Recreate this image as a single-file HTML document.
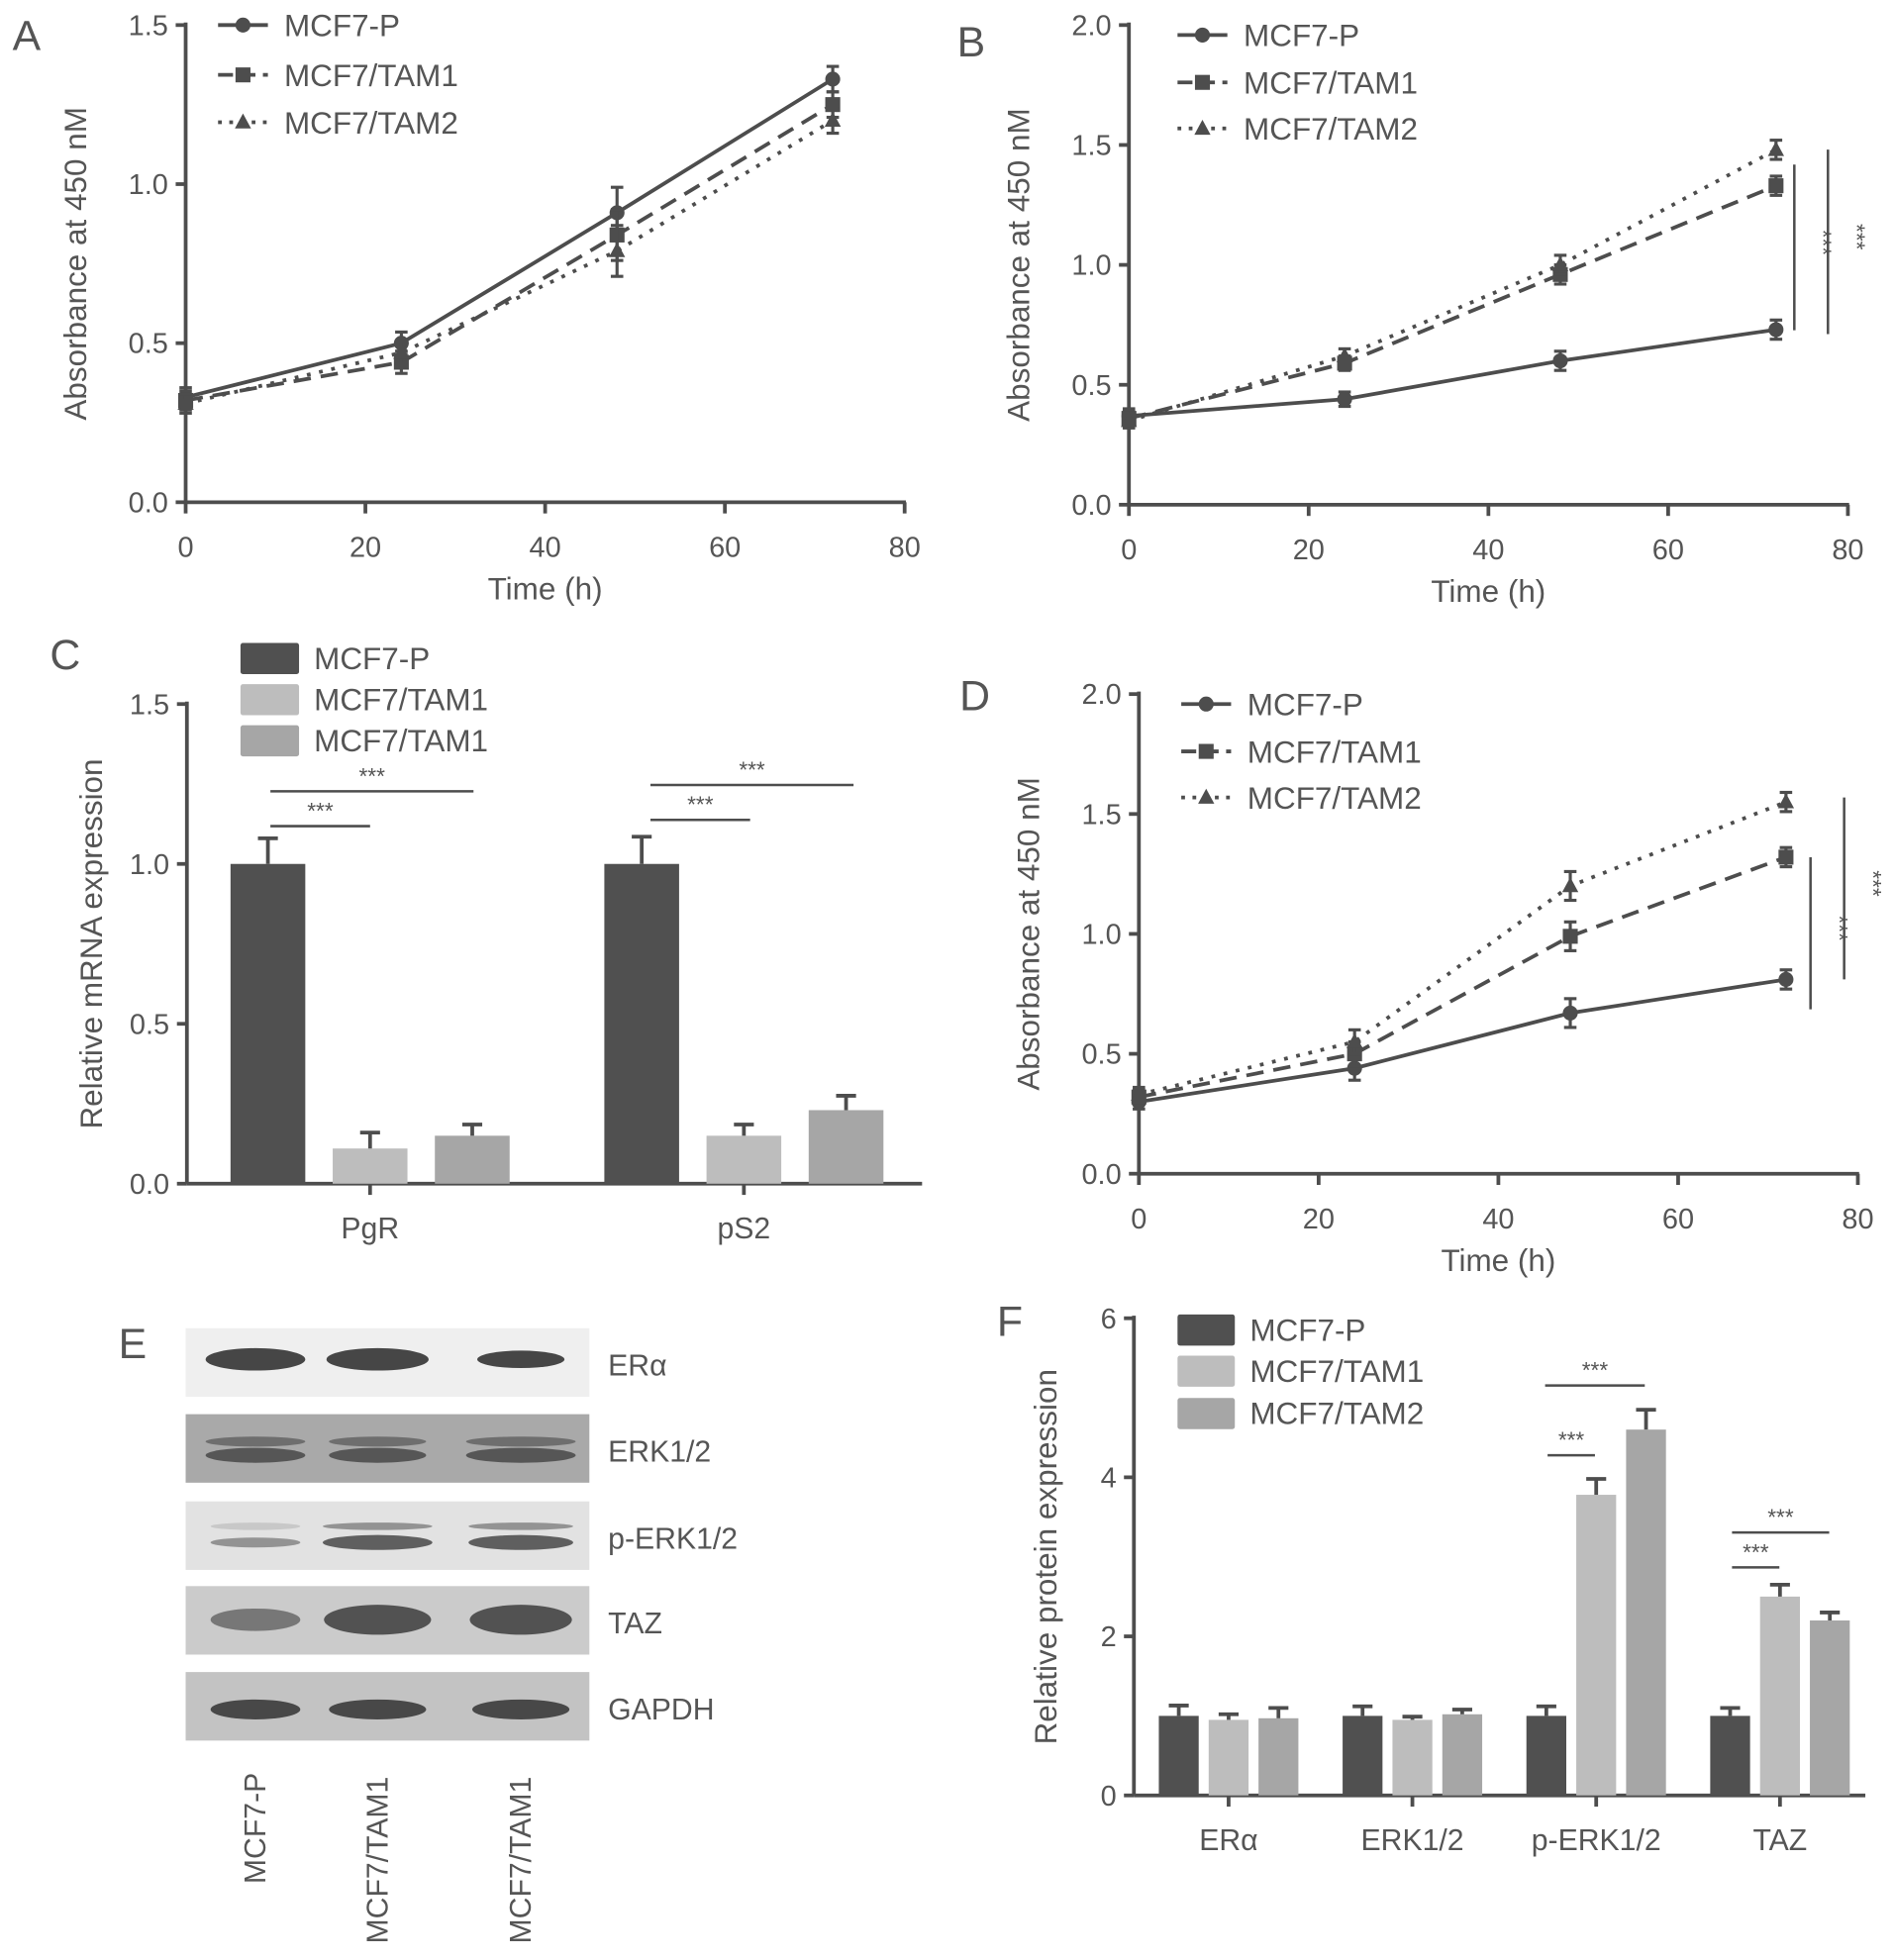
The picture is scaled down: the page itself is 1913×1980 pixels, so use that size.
<!DOCTYPE html>
<html><head><meta charset="utf-8">
<style>
html,body{margin:0;padding:0;background:#fff;}
svg{display:block;}
text{font-family:"Liberation Sans",Arial,sans-serif;fill:#555;}
</style></head>
<body>
<svg id="fig" width="1913" height="1980" viewBox="0 0 1520 1573" xmlns="http://www.w3.org/2000/svg">
<defs>
<linearGradient id="g1" x1="0" x2="0" y1="0" y2="1"><stop offset="0" stop-color="#f4f4f4"/><stop offset="1" stop-color="#ececec"/></linearGradient>
</defs>
<g id="blots"></g>
</svg>
<script>
// ---------- data ----------
const timePoints = [0, 24, 48, 72];
const seriesNames = ["MCF7-P", "MCF7/TAM1", "MCF7/TAM2"];
const aP = [0.33, 0.50, 0.91, 1.33];
const aT1 = [0.32, 0.44, 0.84, 1.25];
const aT2 = [0.31, 0.47, 0.79, 1.20];
const aErr = [0.03, 0.035, 0.08, 0.04];
const bP = [0.37, 0.44, 0.60, 0.73];
const bT1 = [0.36, 0.59, 0.96, 1.33];
const bT2 = [0.35, 0.62, 1.00, 1.48];
const bErr = [0.03, 0.03, 0.04, 0.04];
const dP = [0.30, 0.44, 0.67, 0.81];
const dT1 = [0.32, 0.50, 0.99, 1.32];
const dT2 = [0.33, 0.55, 1.20, 1.55];
const dErr = [0.03, 0.05, 0.06, 0.04];
const cGroups = ["PgR", "pS2"];
const cP = [1.0, 1.0];
const cT1 = [0.11, 0.15];
const cT2 = [0.15, 0.23];
const cErrP = [0.08, 0.085];
const cErrT1 = [0.05, 0.035];
const cErrT2 = [0.035, 0.045];
const cLegend = ["MCF7-P", "MCF7/TAM1", "MCF7/TAM1"];
const fGroups = ["ERα", "ERK1/2", "p-ERK1/2", "TAZ"];
const fP = [1.0, 1.0, 1.0, 1.0];
const fT1 = [0.95, 0.95, 3.78, 2.5];
const fT2 = [0.97, 1.02, 4.6, 2.2];
const fErrP = [0.13, 0.12, 0.12, 0.1];
const fErrT1 = [0.07, 0.04, 0.2, 0.15];
const fErrT2 = [0.13, 0.06, 0.25, 0.1];
const xTicksTime = [0, 20, 40, 60, 80];
const yTicksA = ["0.0", "0.5", "1.0", "1.5"];
const yTicks2 = ["0.0", "0.5", "1.0", "1.5", "2.0"];
const yTicksF = ["0", "2", "4", "6"];
const blotLabels = ["ERα", "ERK1/2", "p-ERK1/2", "TAZ", "GAPDH"];
const laneLabels = ["MCF7-P", "MCF7/TAM1", "MCF7/TAM1"];

// ---------- helpers ----------
const NS = "http://www.w3.org/2000/svg";
const svg = document.getElementById('fig');
const INK = "#4d4d4d";
function el(tag, attrs, parent, txt) {
  const e = document.createElementNS(NS, tag);
  for (const k in attrs) e.setAttribute(k, attrs[k]);
  if (txt !== undefined) e.textContent = txt;
  (parent || svg).appendChild(e);
  return e;
}
function group(name, parent) {
  const g = el('g', {}, parent);
  
  
  return g;
}
function txt(parent, x, y, s, size, anchor, name, rot) {
  const t = el('text', {x: x, y: y, 'font-size': size, 'text-anchor': anchor || 'start'}, parent, s);
  if (rot) t.setAttribute('transform', 'rotate(' + rot + ' ' + x + ' ' + y + ')');
  
  
  return t;
}
function line(parent, x1, y1, x2, y2, w, dash, name) {
  const l = el('line', {x1: x1, y1: y1, x2: x2, y2: y2, stroke: INK, 'stroke-width': w || 2.5}, parent);
  if (dash) l.setAttribute('stroke-dasharray', dash);
  
  
  return l;
}
function marker(parent, kind, x, y) {
  let m;
  if (kind === 0) m = el('circle', {cx: x, cy: y, r: 6, fill: INK}, parent);
  else if (kind === 1) m = el('rect', {x: x - 6, y: y - 6, width: 12, height: 12, fill: INK}, parent);
  else m = el('polygon', {points: (x) + ',' + (y - 7) + ' ' + (x - 6.5) + ',' + (y + 5) + ' ' + (x + 6.5) + ',' + (y + 5), fill: INK}, parent);
  
  
}
const dashes = [null, "14,8", "3,7"];

function lineChart(cfg) {
  const g = group(cfg.name);
  const sx = v => cfg.x0 + (v - 0) / 80 * (cfg.x1 - cfg.x0);
  const sy = v => cfg.y0 - v / cfg.ymax * (cfg.y0 - cfg.y1);
  // axes
  line(g, cfg.x0, cfg.y1 - 2, cfg.x0, cfg.y0, 3, null, 'y-axis');
  line(g, cfg.x0, cfg.y0, cfg.x1 + 1, cfg.y0, 3, null, 'x-axis');
  cfg.yt.forEach(s => {
    const y = sy(parseFloat(s));
    line(g, cfg.x0 - 8, y, cfg.x0, y, 3, null, 'y-tick');
    txt(g, cfg.x0 - 14, y + 8, s, 23, 'end', 'y-tick-label');
  });
  xTicksTime.forEach(v => {
    const x = sx(v);
    line(g, x, cfg.y0, x, cfg.y0 + 9, 3, null, 'x-tick');
    txt(g, x, cfg.y0 + 44, String(v), 23, 'middle', 'x-tick-label');
  });
  txt(g, (cfg.x0 + cfg.x1) / 2, cfg.y0 + 78, 'Time (h)', 25, 'middle', 'x-axis-title');
  txt(g, cfg.x0 - 80, (cfg.y0 + cfg.y1) / 2, 'Absorbance at 450 nM', 25, 'middle', 'y-axis-title', -90);
  txt(g, cfg.lx, cfg.ly, cfg.letter, 34, 'start', 'panel-label');
  cfg.series.forEach((vals, si) => {
    const sg = group('series-' + seriesNames[si].toLowerCase().replace(/[^a-z0-9]+/g, '-'), g);
    const pts = vals.map((v, i) => sx(timePoints[i]) + ',' + sy(v)).join(' ');
    const pl = el('polyline', {points: pts, fill: 'none', stroke: INK, 'stroke-width': 3}, sg);
    if (dashes[si]) pl.setAttribute('stroke-dasharray', dashes[si]);
    
    
    vals.forEach((v, i) => {
      const x = sx(timePoints[i]);
      const e = cfg.err[i];
      line(sg, x, sy(v - e), x, sy(v + e), 2.5, null, 'error-bar');
      line(sg, x - 5, sy(v + e), x + 5, sy(v + e), 2.5, null, 'error-cap');
      line(sg, x - 5, sy(v - e), x + 5, sy(v - e), 2.5, null, 'error-cap');
      marker(sg, si, x, y = sy(v));
    });
  });
  // legend
  seriesNames.forEach((n, i) => {
    const lg = group('legend-entry', g);
    const y = cfg.legY[i];
    line(lg, cfg.legX, y, cfg.legX + 40, y, 3, dashes[i] ? (i === 1 ? "12,6" : "3,6") : null, 'legend-line');
    marker(lg, i, cfg.legX + 20, y);
    txt(lg, cfg.legX + 53, y + 9, n, 25, 'start', 'legend-label');
  });
  (cfg.sig || []).forEach(s => {
    line(g, s.x, s.ya, s.x, s.yb, 2, null, 'significance-line');
    txt(g, s.x + 17, (s.ya + s.yb) / 2 - 4, '***', 18, 'middle', 'significance-stars', 90);
  });
  return {sx, sy};
}
var y;
lineChart({name: 'chart-a', letter: 'A', lx: 10, ly: 40, x0: 149, x1: 726, y0: 403, y1: 20, ymax: 1.5, yt: yTicksA,
  series: [aP, aT1, aT2], err: aErr, legX: 175, legY: [20, 60, 98]});
lineChart({name: 'chart-b', letter: 'B', lx: 768, ly: 45, x0: 906, x1: 1483, y0: 405, y1: 20, ymax: 2.0, yt: yTicks2,
  series: [bP, bT1, bT2], err: bErr, legX: 945, legY: [28, 66, 103],
  sig: [{x: 1440, ya: 132, yb: 265}, {x: 1467, ya: 120, yb: 268}]});
lineChart({name: 'chart-d', letter: 'D', lx: 770, ly: 570, x0: 914, x1: 1491, y0: 942, y1: 557, ymax: 2.0, yt: yTicks2,
  series: [dP, dT1, dT2], err: dErr, legX: 948, legY: [565, 603, 640],
  sig: [{x: 1453, ya: 688, yb: 810}, {x: 1480, ya: 640, yb: 786}]});

const barColors = ["#505050", "#bdbdbd", "#a6a6a6"];
function barChart(cfg) {
  const g = group(cfg.name);
  const sy = v => cfg.y0 - v / cfg.ymax * (cfg.y0 - cfg.y1);
  line(g, cfg.x0, cfg.y1 - 2, cfg.x0, cfg.y0, 3, null, 'y-axis');
  line(g, cfg.x0, cfg.y0, cfg.x1, cfg.y0, 3, null, 'x-axis');
  cfg.yt.forEach(s => {
    const yy = sy(parseFloat(s));
    line(g, cfg.x0 - 8, yy, cfg.x0, yy, 3, null, 'y-tick');
    txt(g, cfg.x0 - 14, yy + 8, s, 23, 'end', 'y-tick-label');
  });
  txt(g, cfg.ytx, (cfg.y0 + cfg.y1) / 2, cfg.ytitle, 25, 'middle', 'y-axis-title', -90);
  txt(g, cfg.lx, cfg.ly, cfg.letter, 34, 'start', 'panel-label');
  cfg.groups.forEach((gn, gi) => {
    const cx = cfg.gx0 + gi * cfg.gstep;
    line(g, cx, cfg.y0, cx, cfg.y0 + 9, 3, null, 'x-tick');
    txt(g, cx, cfg.y0 + 44, gn, 24, 'middle', 'x-tick-label');
    cfg.vals.forEach((arr, si) => {
      const bx = cx + (si - 1) * cfg.off;
      const v = arr[gi], e = cfg.errs[si][gi];
      const r = el('rect', {x: bx - cfg.bw / 2, y: sy(v), width: cfg.bw, height: cfg.y0 - sy(v), fill: barColors[si]}, g);
      
      
      line(g, bx, sy(v), bx, sy(v + e), 3, null, 'error-bar');
      line(g, bx - 8, sy(v + e), bx + 8, sy(v + e), 3, null, 'error-cap');
    });
  });
  cfg.legend.forEach((n, i) => {
    const lg = group('legend-entry', g);
    const r = el('rect', {x: cfg.legX, y: cfg.legY[i] - 12, width: cfg.legW, height: 25, fill: barColors[i], rx: 2}, lg);
    
    
    txt(lg, cfg.legX + cfg.legW + 12, cfg.legY[i] + 9, n, 25, 'start', 'legend-label');
  });
  cfg.sig.forEach(s => {
    line(g, s.a, s.y, s.b, s.y, 2, null, 'significance-line');
    txt(g, (s.a + s.b) / 2, s.y - 6, '***', 18, 'middle', 'significance-stars');
  });
}
barChart({name: 'chart-c', letter: 'C', lx: 40, ly: 537, x0: 150, x1: 740, y0: 950, y1: 565, ymax: 1.5,
  yt: yTicksA, ytx: 82, ytitle: 'Relative mRNA expression', groups: cGroups, gx0: 297, gstep: 300, off: 82, bw: 60,
  vals: [cP, cT1, cT2], errs: [cErrP, cErrT1, cErrT2], legend: cLegend, legX: 193, legY: [528, 561, 594], legW: 47,
  sig: [{a: 217, b: 297, y: 663}, {a: 217, b: 380, y: 635}, {a: 522, b: 602, y: 658}, {a: 522, b: 685, y: 630}]});
barChart({name: 'chart-f', letter: 'F', lx: 800, ly: 1072, x0: 910, x1: 1497, y0: 1441, y1: 1058, ymax: 6,
  yt: yTicksF, ytx: 848, ytitle: 'Relative protein expression', groups: fGroups, gx0: 986, gstep: 147.5, off: 40, bw: 32,
  vals: [fP, fT1, fT2], errs: [fErrP, fErrT1, fErrT2], legend: seriesNames, legX: 945, legY: [1067, 1100, 1134], legW: 46,
  sig: [{a: 1242, b: 1280, y: 1168}, {a: 1240, b: 1320, y: 1112}, {a: 1390, b: 1428, y: 1258}, {a: 1390, b: 1468, y: 1230}]});

// ---------- western blots ----------
const bg = document.getElementById('blots');
txt(bg, 95, 1090, 'E', 34, 'start', 'panel-label');
const rowY = [1066, 1135, 1205, 1273, 1342];
const rowBg = ["#efefef", "#a9a9a9", "#e2e2e2", "#cbcbcb", "#c3c3c3"];
const laneX = [205, 303, 418];
const bandW = [[80, 82, 70], [80, 78, 88], [72, 88, 84], [72, 86, 82], [72, 78, 78]];
blotLabels.forEach((lab, r) => {
  const rg = group('blot-row-' + lab.toLowerCase().replace(/[^a-z0-9]+/g, '-'), bg);
  const rect = el('rect', {x: 149, y: rowY[r], width: 324, height: 55, fill: rowBg[r]}, rg);
  
  
  laneX.forEach((lx, li) => {
    const w = bandW[r][li];
    const addBand = (cy, ry, op) => {
      const b = el('ellipse', {cx: lx, cy: cy, rx: w / 2, ry: ry, fill: '#333', opacity: op}, rg);
      
      
    };
    if (r === 0) addBand(rowY[r] + 25, li === 2 ? 7 : 9, 0.9);
    else if (r === 1) { addBand(rowY[r] + 22, 4, 0.5); addBand(rowY[r] + 33, 6, 0.7); }
    else if (r === 2) { addBand(rowY[r] + 20, 3, li === 0 ? 0.15 : 0.45); addBand(rowY[r] + 33, li === 0 ? 4 : 6, li === 0 ? 0.45 : 0.75); }
    else if (r === 3) addBand(rowY[r] + 27, li === 0 ? 9 : 12, li === 0 ? 0.55 : 0.8);
    else addBand(rowY[r] + 30, 8, 0.85);
  });
  txt(rg, 488, rowY[r] + 38, lab, 24, 'start', 'blot-label');
});
laneLabels.forEach((l, i) => {
  txt(bg, laneX[i] + 8, i === 0 ? 1512 : 1560, l, 24, 'start', 'lane-label', -90);
});
</script>
</body></html>
